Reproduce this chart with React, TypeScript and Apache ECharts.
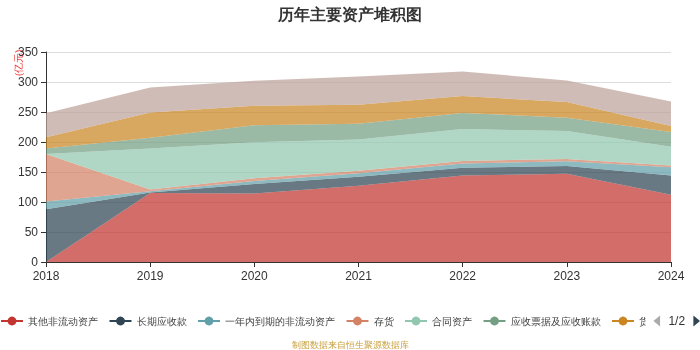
import React, { useEffect, useRef } from "react";
import * as echarts from "echarts";

const years = ["2018", "2019", "2020", "2021", "2022", "2023", "2024"];
const seriesNames = [
  "其他非流动资产",
  "长期应收款",
  "一年内到期的非流动资产",
  "存货",
  "合同资产",
  "应收票据及应收账款",
  "货币资金",
  "固定资产",
];
const otherNonCurrent = [0, 115, 114, 127, 144, 147, 112];
const longTermReceivable = [88, 1, 16, 15, 13, 13, 32];
const currentPortion = [13, 2, 5, 6, 7, 8, 14];
const inventory = [79, 3, 4.5, 4, 4.5, 3.5, 3];
const contractAssets = [0, 68, 60, 52, 53, 47, 31];
const receivables = [9, 18, 28.5, 26.5, 27, 22, 24.5];
const cash = [19, 42, 32.5, 31.5, 28, 26, 10];
const fixedAssets = [40, 42, 41.5, 47, 41, 36, 41];
const seriesValues = [
  otherNonCurrent,
  longTermReceivable,
  currentPortion,
  inventory,
  contractAssets,
  receivables,
  cash,
  fixedAssets,
];
const colors = ["#c23531", "#2f4554", "#61a0a8", "#d48265", "#91c7ae", "#749f83", "#ca8622", "#bda29a"];

export default function App() {
  const ref = useRef<HTMLDivElement>(null);
  useEffect(() => {
    if (!ref.current) return;
    const chart = echarts.init(ref.current, undefined, { renderer: "svg" });
    chart.setOption({
      animation: false,
      color: colors,
      title: {
        text: "历年主要资产堆积图",
        left: "center",
        top: 1,
        textStyle: { fontSize: 16, fontWeight: "bold", color: "#333" },
      },
      graphic: [
        {
          type: "text",
          x: 13,
          y: 76,
          rotation: Math.PI / 2,
          style: { text: "(亿元)", fill: "#e33", fontSize: 9.5 },
        },
        {
          type: "text",
          left: "center",
          top: 340,
          style: { text: "制图数据来自恒生聚源数据库", fill: "#c9a13f", fontSize: 9 },
        },
      ],
      grid: { left: 46, right: 29, top: 52, bottom: 88 },
      legend: {
        type: "scroll",
        top: 315,
        left: 0,
        right: 1,
        padding: 0,
        itemWidth: 22,
        itemHeight: 11,
        itemGap: 10.5,
        textStyle: { fontSize: 10, color: "#444" },
        pageIconColor: "#2f4554",
        pageIconInactiveColor: "#aaa",
        pageIconSize: 11,
        pageButtonItemGap: 3,
        pageButtonGap: 8,
        pageTextStyle: { color: "#333", fontSize: 12 },
        lineStyle: { width: 2 },
        data: seriesNames,
      },
      xAxis: {
        type: "category",
        data: years,
        boundaryGap: false,
        axisLine: { lineStyle: { color: "#333" } },
        axisTick: { show: true },
        axisLabel: { color: "#333", fontSize: 12 },
      },
      yAxis: {
        type: "value",
        min: 0,
        max: 350,
        interval: 50,
        axisLine: { show: true, lineStyle: { color: "#333" } },
        axisTick: { show: true },
        axisLabel: { color: "#333", fontSize: 12 },
        splitLine: { lineStyle: { color: "#ddd" } },
      },
      series: seriesNames.map((name, i) => ({
        name,
        type: "line",
        stack: "total",
        data: seriesValues[i],
        symbol: "circle",
        symbolSize: 8,
        showSymbol: false,
        lineStyle: { width: 0 },
        areaStyle: { opacity: 0.72 },
      })),
    });
    return () => chart.dispose();
  }, []);
  return (
    <div
      ref={ref}
      style={{ position: "fixed", left: 0, top: 0, width: 700, height: 350 }}
    />
  );
}
